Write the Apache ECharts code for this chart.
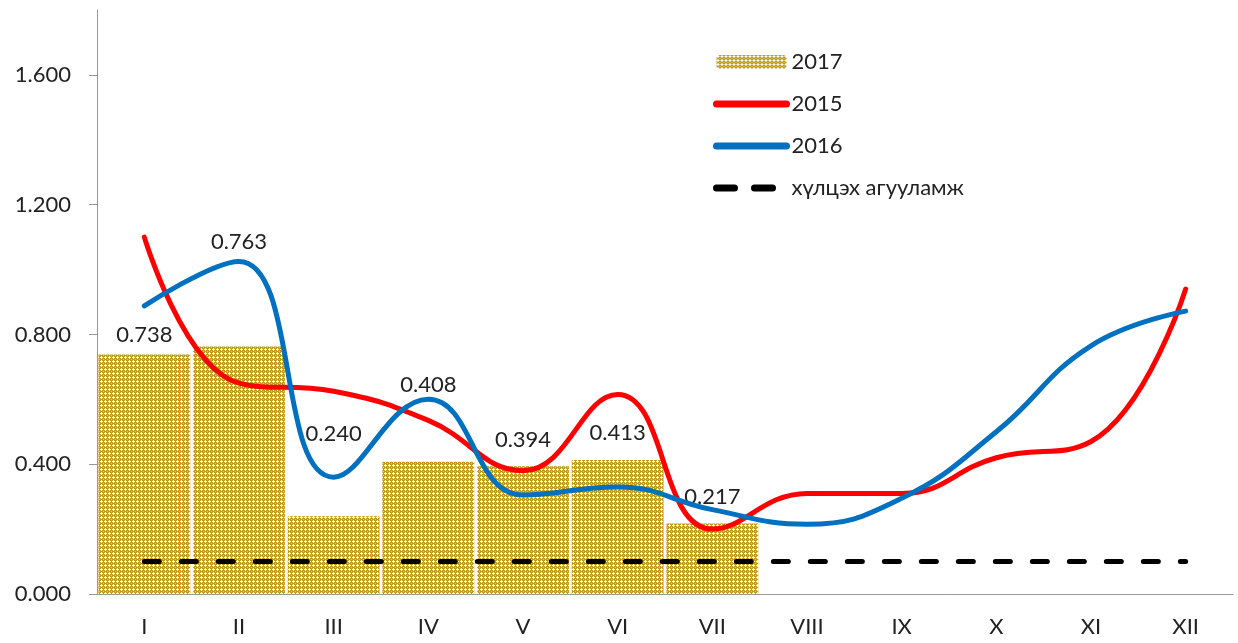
<!DOCTYPE html>
<html>
<head>
    <meta charset="utf-8">
    <title>Chart</title>
    <script src="https://cdn.jsdelivr.net/npm/echarts@6/dist/echarts.min.js"></script>
    <style>
        html, body { margin: 0; padding: 0; background: #fff; }
        #main { width: 1238px; height: 643px; }
    </style>
</head>
<body>
    <div id="main"></div>
    <script>
        // months
        const months = ['I', 'II', 'III', 'IV', 'V', 'VI', 'VII', 'VIII', 'IX', 'X', 'XI', 'XII'];
        // 2017 bars (known months only)
        const values2017 = [0.738, 0.763, 0.240, 0.408, 0.394, 0.413, 0.217];
        // 2015 and 2016 lines
        const values2015 = [1.10, 0.65, 0.625, 0.535, 0.38, 0.615, 0.20, 0.31, 0.31, 0.42, 0.47, 0.94];
        const values2016 = [0.888, 1.025, 0.36, 0.60, 0.305, 0.33, 0.26, 0.215, 0.295, 0.50, 0.765, 0.872];
        // norm level
        const normLevel = [0.1, 0.1, 0.1, 0.1, 0.1, 0.1, 0.1, 0.1, 0.1, 0.1, 0.1, 0.1];
        // label vertical shifts for the bar labels (px)
        const labelShift = [-4, -89, -66, -61, -10, -11, -11];

        // gold pattern with small white crosses
        function makePattern() {
            const c = document.createElement('canvas');
            c.width = 4; c.height = 4;
            const ctx = c.getContext('2d');
            ctx.fillStyle = '#c49a1c';
            ctx.fillRect(0, 0, 4, 4);
            ctx.fillStyle = '#ffffff';
            ctx.fillRect(1, 0, 1, 3);
            ctx.fillRect(0, 1, 3, 1);
            ctx.fillStyle = '#e2c978';
            ctx.fillRect(3, 3, 1, 1);
            return c;
        }
        const pattern = { image: makePattern(), repeat: 'repeat' };

        const myChart = echarts.init(document.getElementById('main'));
        const font = 'Lato';
        const fs = 22;

        const barData = values2017.map((v, i) => ({
            value: v,
            label: { offset: [0, labelShift[i]] }
        }));

        const option = {
            animation: false,
            textStyle: { fontFamily: font },
            grid: { left: 97, right: 5, top: 10, bottom: 49 },
            legend: {
                orient: 'vertical',
                left: 708,
                top: 46,
                itemWidth: 70,
                itemHeight: 14,
                itemGap: 20,
                textStyle: { fontSize: fs, color: '#222', fontFamily: font },
                data: [
                    { name: '2017' },
                    { name: '2015', itemStyle: { opacity: 0 }, lineStyle: { width: 7 } },
                    { name: '2016', itemStyle: { opacity: 0 }, lineStyle: { width: 7 } },
                    { name: 'хүлцэх агууламж', itemStyle: { opacity: 0 }, lineStyle: { width: 7, type: [18, 20], cap: 'round' } }
                ]
            },
            xAxis: {
                type: 'category',
                data: months,
                axisLine: { lineStyle: { color: '#999' } },
                axisTick: { length: 8, lineStyle: { color: '#999' } },
                axisLabel: { fontSize: fs, color: '#222', margin: 22 }
            },
            yAxis: {
                type: 'value',
                min: 0,
                max: 1.8,
                interval: 0.4,
                splitLine: { show: false },
                axisLine: { show: true, lineStyle: { color: '#999' } },
                axisTick: { show: true, length: 8, lineStyle: { color: '#999' } },
                axisLabel: {
                    fontSize: fs, color: '#222', margin: 26,
                    showMaxLabel: false,
                    formatter: v => v.toFixed(3)
                }
            },
            series: [
                {
                    name: '2017',
                    type: 'bar',
                    barCategoryGap: '3%',
                    itemStyle: { color: pattern },
                    label: {
                        show: true,
                        position: 'top',
                        fontSize: fs,
                        color: '#222',
                        formatter: p => p.value.toFixed(3)
                    },
                    data: barData,
                    z: 1
                },
                {
                    name: '2015',
                    type: 'line',
                    smooth: 0.45,
                    symbol: 'none',
                    lineStyle: { color: '#ff0000', width: 5, cap: 'round' },
                    itemStyle: { color: '#ff0000' },
                    data: values2015,
                    z: 3
                },
                {
                    name: '2016',
                    type: 'line',
                    smooth: 0.45,
                    symbol: 'none',
                    lineStyle: { color: '#0070c0', width: 5, cap: 'round' },
                    itemStyle: { color: '#0070c0' },
                    data: values2016,
                    z: 4
                },
                {
                    name: 'хүлцэх агууламж',
                    type: 'line',
                    symbol: 'none',
                    lineStyle: { color: '#000', width: 5, type: [15, 22], cap: 'round' },
                    itemStyle: { color: '#000' },
                    data: normLevel,
                    z: 5
                }
            ]
        };

        myChart.setOption(option);
    </script>
</body>
</html>
